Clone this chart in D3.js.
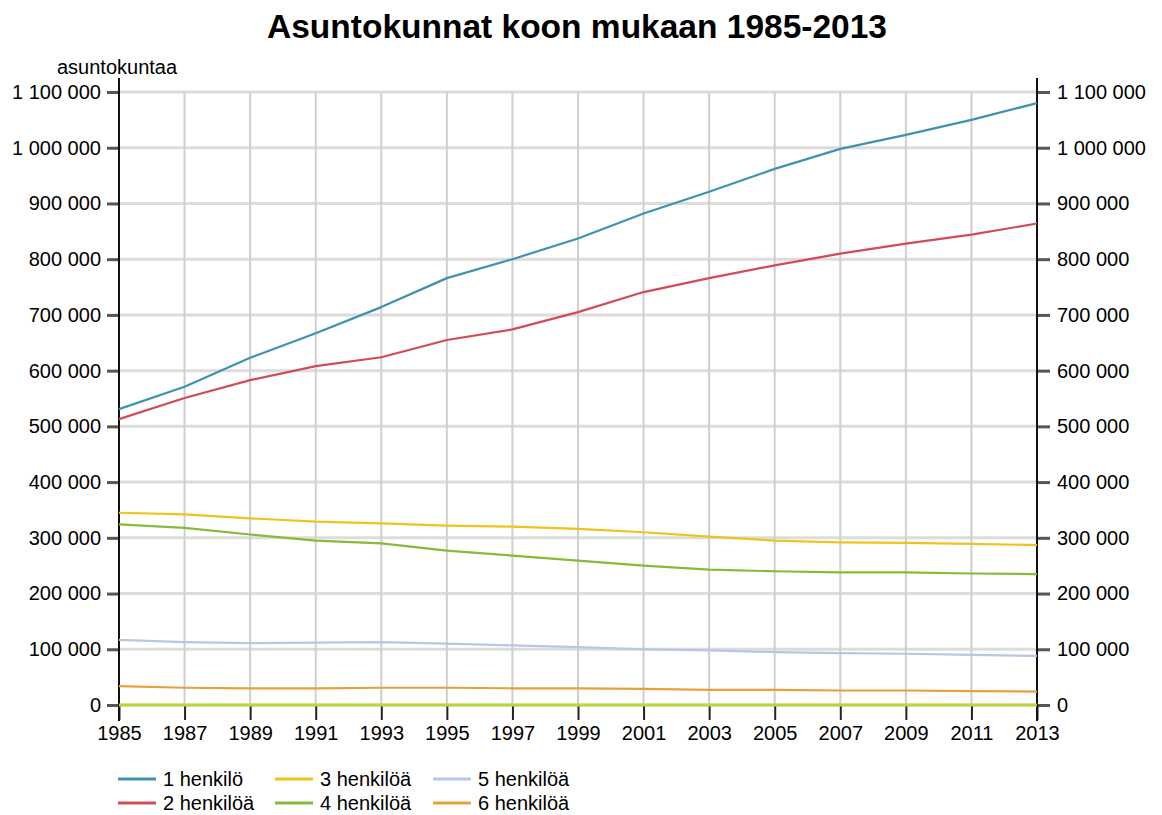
<!DOCTYPE html>
<html>
<head>
<meta charset="utf-8">
<script src="https://cdn.jsdelivr.net/npm/d3@7"></script>
<style>
  html, body { margin: 0; padding: 0; background: #fff; }
  svg text { font-family: "Liberation Sans", Arial, sans-serif; fill: #000; }
</style>
</head>
<body>
<svg id="chart" width="1162" height="815"></svg>
<script>
// ---- Data ----
const title = "Asuntokunnat koon mukaan 1985-2013";
const yAxisLabel = "asuntokuntaa";
const years = [1985, 1987, 1989, 1991, 1993, 1995, 1997, 1999, 2001, 2003, 2005, 2007, 2009, 2011, 2013];
const seriesNames = ["1 henkilö", "2 henkilöä", "3 henkilöä", "4 henkilöä", "5 henkilöä", "6 henkilöä"];
const seriesColors = ["#3e93ad", "#d24b55", "#f0c31c", "#86bb3a", "#b7c6e6", "#e8a13a"];
const henk1 = [531000, 571000, 623000, 667000, 714000, 766000, 800000, 837000, 882000, 921000, 962000, 998000, 1023000, 1050000, 1080000];
const henk2 = [513000, 551000, 583000, 608000, 624000, 655000, 674000, 705000, 741000, 766000, 789000, 810000, 828000, 844000, 864000];
const henk3 = [345000, 342000, 335000, 329000, 326000, 322000, 320000, 316000, 310000, 302000, 295000, 292000, 291000, 289000, 287000];
const henk4 = [324000, 318000, 306000, 295000, 290000, 277000, 268000, 259000, 250000, 243000, 240000, 238000, 238000, 236000, 235000];
const henk5 = [117000, 113000, 111000, 112000, 113000, 110000, 107000, 104000, 100000, 98000, 95000, 93000, 92000, 90000, 88000];
const henk6 = [34000, 31000, 30000, 30000, 31000, 31000, 30000, 30000, 29000, 27000, 27000, 26000, 26000, 25000, 24000];
const seriesValues = [henk1, henk2, henk3, henk4, henk5, henk6];
const yTicks = [0, 100000, 200000, 300000, 400000, 500000, 600000, 700000, 800000, 900000, 1000000, 1100000];
const xTicks = years;

// ---- Layout ----
const svg = d3.select("#chart");
const x0 = 119, x1 = 1037, yBottom = 705, yTop = 92;
const x = d3.scaleLinear().domain([1985, 2013]).range([x0, x1]);
const y = d3.scaleLinear().domain([0, 1100000]).range([yBottom, yTop]);
const fmt = d3.formatLocale({decimal: ",", thousands: " ", grouping: [3], currency: ["", " €"]}).format(",d");

// Title
svg.append("text").attr("x", 577).attr("y", 38).attr("text-anchor", "middle")
  .style("font-size", "33.5px").style("font-weight", "bold").text(title);
svg.append("text").attr("x", 57).attr("y", 74).style("font-size", "20px").text(yAxisLabel);

// Horizontal grid
svg.append("g").selectAll("line").data(yTicks).join("line")
  .attr("x1", x0).attr("x2", x1).attr("y1", d => y(d)).attr("y2", d => y(d))
  .attr("stroke", "#dcdcdc").attr("stroke-width", 3);
// Vertical grid
svg.append("g").selectAll("line").data(xTicks).join("line")
  .attr("x1", d => x(d)).attr("x2", d => x(d)).attr("y1", yTop).attr("y2", yBottom)
  .attr("stroke", "#cfcfcf").attr("stroke-width", 2);

// Axes
const leftAxis = d3.axisLeft(y).tickValues(yTicks).tickFormat(fmt).tickSize(12).tickPadding(6);
const rightAxis = d3.axisRight(y).tickValues(yTicks).tickFormat(fmt).tickSize(13).tickPadding(7);
const bottomAxis = d3.axisBottom(x).tickValues(xTicks).tickFormat(d3.format("d")).tickSize(15).tickPadding(6);

function styleAxis(g, tickColor) {
  g.select(".domain").remove();
  g.selectAll(".tick line").attr("stroke", tickColor).attr("stroke-width", 3);
  g.selectAll(".tick text").style("font-size", "20px").attr("fill", "#000")
    .style("font-family", "'Liberation Sans', Arial, sans-serif");
}
svg.append("g").attr("transform", `translate(${x0},0)`).call(leftAxis).call(g => styleAxis(g, "#555"));
svg.append("g").attr("transform", `translate(${x1},0)`).call(rightAxis).call(g => styleAxis(g, "#555"));
svg.append("g").attr("transform", `translate(0,${yBottom})`).call(bottomAxis).call(g => {
  styleAxis(g, "#222");
  g.selectAll(".tick line").attr("stroke-width", 2);
});

// Vertical axis lines
[x0, x1].forEach(px => {
  svg.append("line").attr("x1", px).attr("x2", px).attr("y1", 78).attr("y2", 721)
    .attr("stroke", "#111").attr("stroke-width", 2);
});

// Baseline at zero (lime)
svg.append("line").attr("x1", x0).attr("x2", x1).attr("y1", y(0)).attr("y2", y(0))
  .attr("stroke", "#bcd63a").attr("stroke-width", 3);

// Series lines
const line = d3.line().x((d, i) => x(years[i])).y(d => y(d));
const order = [5, 4, 3, 2, 1, 0];
svg.append("g").selectAll("path").data(order).join("path")
  .attr("d", i => line(seriesValues[i]))
  .attr("fill", "none").attr("stroke", i => seriesColors[i]).attr("stroke-width", 2.2)
  .attr("stroke-linejoin", "round");

// Legend
const legendPos = [[118, 779], [118, 803], [275, 779], [275, 803], [433, 779], [433, 803]];
const lg = svg.append("g").selectAll("g").data(seriesNames).join("g")
  .attr("transform", (d, i) => `translate(${legendPos[i][0]},${legendPos[i][1]})`);
lg.append("line").attr("x1", 0).attr("x2", 38).attr("y1", 0).attr("y2", 0)
  .attr("stroke", (d, i) => seriesColors[i]).attr("stroke-width", 3);
lg.append("text").attr("x", 45).attr("y", 7).style("font-size", "20px").text(d => d);
</script>
</body>
</html>
